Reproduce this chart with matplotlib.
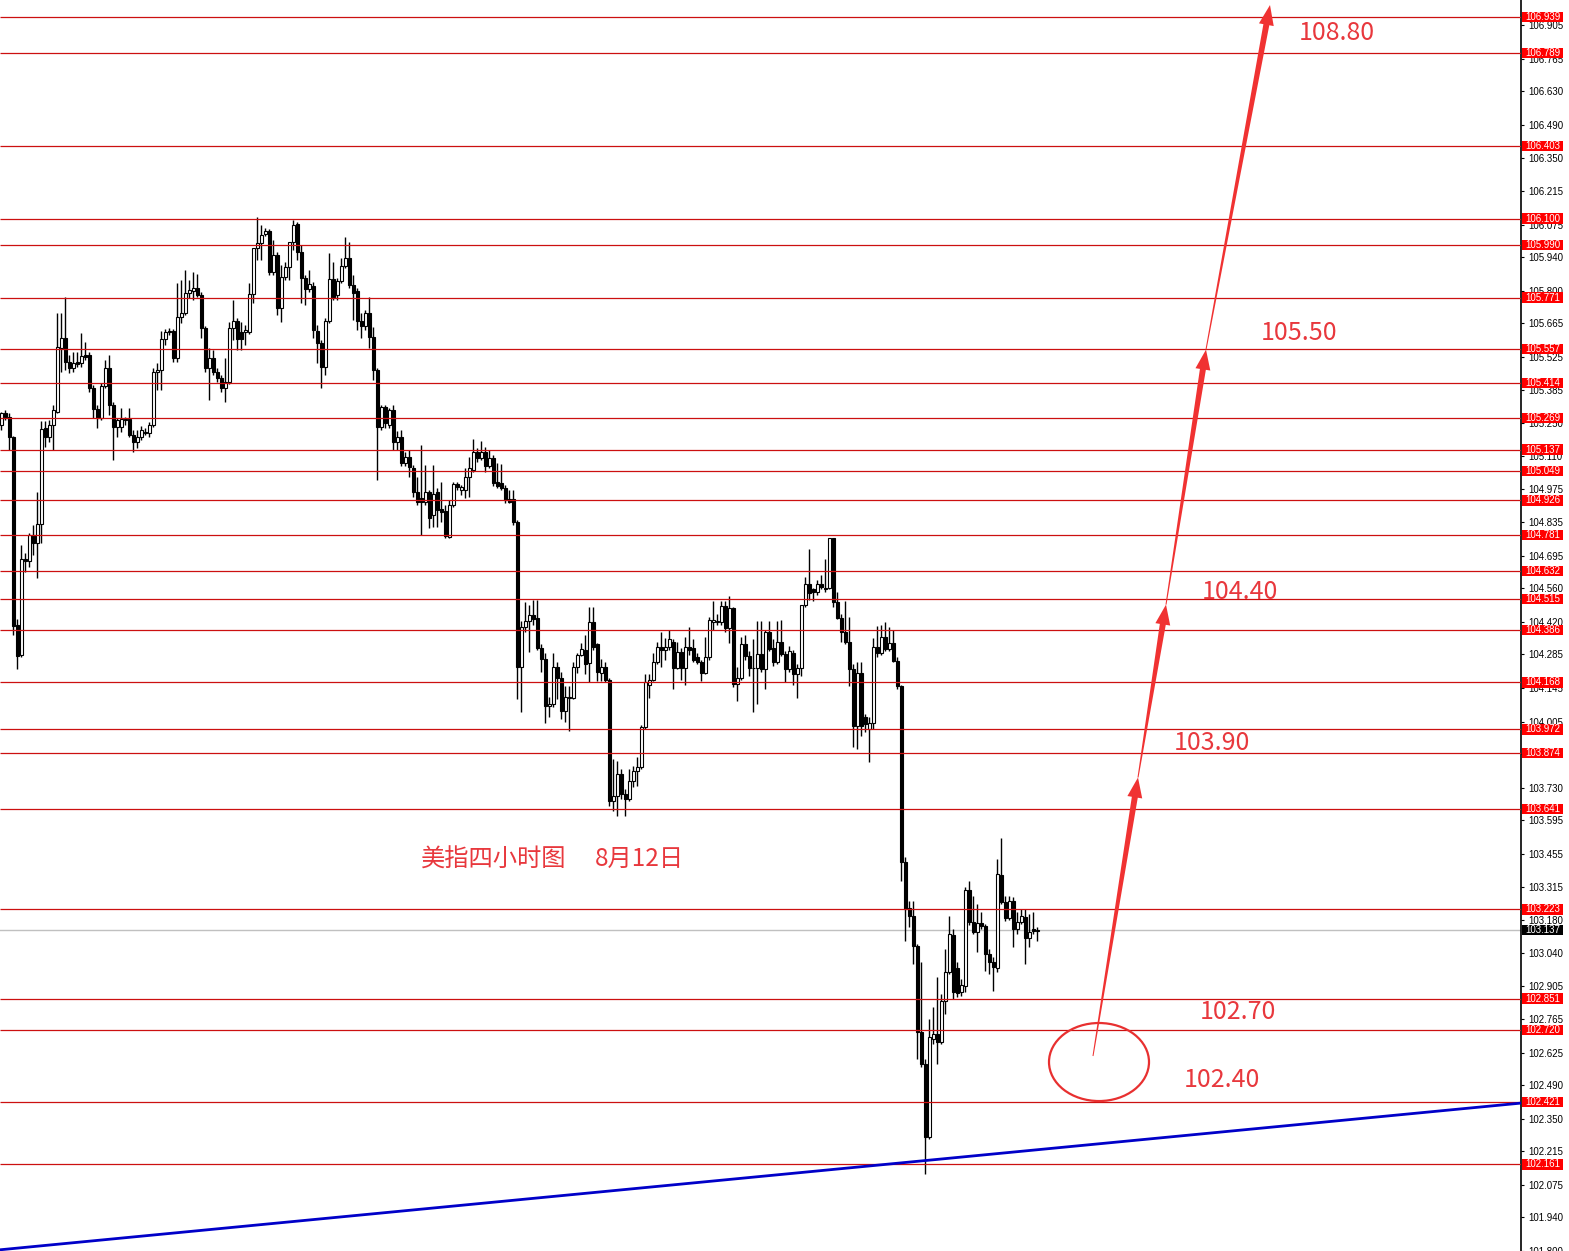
import matplotlib
matplotlib.use("Agg")
import matplotlib.pyplot as plt
import numpy as np
from matplotlib.patches import Rectangle, Ellipse, Polygon
from matplotlib import transforms

cjk = ["Noto Sans CJK SC", "DejaVu Sans"]

# 4H candles (index 0..259)
opens = [
    105.241, 105.292, 105.275, 105.188, 104.409, 104.284, 104.684, 104.672, 104.783, 104.750,
    104.829, 105.229, 105.188, 105.241, 105.296, 105.562, 105.604, 105.504, 105.479, 105.504,
    105.500, 105.533, 105.533, 105.396, 105.308, 105.271, 105.404, 105.479, 105.324, 105.233,
    105.233, 105.266, 105.266, 105.200, 105.171, 105.188, 105.212, 105.208, 105.241, 105.462,
    105.470, 105.600, 105.633, 105.633, 105.521, 105.691, 105.707, 105.791, 105.799, 105.812,
    105.783, 105.645, 105.479, 105.521, 105.462, 105.437, 105.396, 105.420, 105.645, 105.674,
    105.629, 105.629, 105.629, 105.787, 105.978, 105.999, 106.036, 106.049, 105.878, 105.949,
    105.728, 105.857, 105.899, 106.003, 106.078, 105.962, 105.853, 105.807, 105.820, 105.633,
    105.583, 105.483, 105.674, 105.849, 105.783, 105.841, 105.903, 105.936, 105.824, 105.799,
    105.674, 105.653, 105.707, 105.608, 105.470, 105.233, 105.316, 105.241, 105.304, 105.171,
    105.192, 105.083, 105.108, 105.062, 104.963, 104.938, 104.921, 104.959, 104.867, 104.959,
    104.892, 104.883, 104.775, 104.908, 104.996, 104.971, 104.971, 105.025, 105.054, 105.129,
    105.104, 105.129, 105.071, 105.104, 105.004, 105.000, 104.979, 104.933, 104.933, 104.834,
    104.234, 104.397, 104.422, 104.447, 104.438, 104.313, 104.267, 104.068, 104.076, 104.234,
    104.188, 104.047, 104.105, 104.105, 104.234, 104.284, 104.305, 104.247, 104.418, 104.326,
    104.209, 104.234, 104.180, 103.673, 103.694, 103.785, 103.702, 103.681, 103.756, 103.798,
    103.814, 103.981, 104.159, 104.180, 104.251, 104.317, 104.305, 104.317, 104.338, 104.230,
    104.296, 104.230, 104.317, 104.313, 104.272, 104.255, 104.209, 104.272, 104.418, 104.418,
    104.418, 104.488, 104.393, 104.476, 104.163, 104.188, 104.326, 104.280, 104.230, 104.226,
    104.288, 104.222, 104.376, 104.313, 104.251, 104.338, 104.288, 104.222, 104.292, 104.205,
    104.226, 104.492, 104.576, 104.555, 104.546, 104.576, 104.563, 104.563, 104.771, 104.501,
    104.438, 104.376, 104.338, 104.222, 103.985, 104.209, 104.026, 103.972, 104.001, 104.317,
    104.292, 104.359, 104.309, 104.334, 104.259, 104.151, 103.419, 103.227, 103.194, 103.069,
    102.711, 102.578, 102.274, 102.682, 102.703, 102.670, 102.840, 102.961, 103.115, 102.978,
    102.878, 102.903, 103.302, 103.169, 103.128, 103.165, 103.153, 103.036, 103.003, 102.978,
    103.365, 103.252, 103.186, 103.256, 103.140, 103.169, 103.190, 103.102, 103.140, 103.132,
]
closes = [
    105.292, 105.275, 105.188, 104.401, 104.280, 104.680, 104.672, 104.783, 104.750, 104.829,
    105.225, 105.188, 105.241, 105.304, 105.566, 105.604, 105.504, 105.479, 105.500, 105.495,
    105.529, 105.525, 105.396, 105.308, 105.271, 105.404, 105.479, 105.324, 105.233, 105.262,
    105.266, 105.262, 105.200, 105.171, 105.188, 105.221, 105.208, 105.241, 105.462, 105.470,
    105.600, 105.629, 105.629, 105.521, 105.691, 105.707, 105.791, 105.803, 105.812, 105.783,
    105.645, 105.479, 105.521, 105.462, 105.437, 105.396, 105.420, 105.645, 105.674, 105.600,
    105.600, 105.637, 105.787, 105.978, 105.999, 106.032, 106.049, 105.878, 105.949, 105.728,
    105.857, 105.899, 106.003, 106.074, 105.962, 105.853, 105.807, 105.828, 105.637, 105.583,
    105.483, 105.674, 105.849, 105.774, 105.841, 105.903, 105.936, 105.824, 105.791, 105.674,
    105.653, 105.707, 105.608, 105.470, 105.233, 105.316, 105.250, 105.304, 105.171, 105.192,
    105.083, 105.108, 105.067, 104.963, 104.921, 104.921, 104.959, 104.854, 104.954, 104.888,
    104.879, 104.779, 104.908, 104.996, 104.983, 104.983, 105.025, 105.062, 105.129, 105.104,
    105.129, 105.071, 105.104, 105.000, 104.988, 104.979, 104.929, 104.921, 104.834, 104.234,
    104.397, 104.422, 104.447, 104.434, 104.313, 104.267, 104.068, 104.076, 104.234, 104.188,
    104.047, 104.109, 104.109, 104.234, 104.284, 104.309, 104.243, 104.418, 104.317, 104.213,
    104.234, 104.180, 103.673, 103.694, 103.785, 103.702, 103.681, 103.756, 103.798, 103.814,
    103.981, 104.168, 104.180, 104.251, 104.317, 104.305, 104.317, 104.347, 104.230, 104.296,
    104.230, 104.317, 104.305, 104.263, 104.255, 104.209, 104.272, 104.426, 104.426, 104.422,
    104.488, 104.393, 104.476, 104.163, 104.188, 104.330, 104.280, 104.230, 104.226, 104.288,
    104.222, 104.376, 104.309, 104.251, 104.338, 104.288, 104.222, 104.297, 104.205, 104.226,
    104.492, 104.576, 104.542, 104.546, 104.576, 104.567, 104.559, 104.771, 104.501, 104.438,
    104.376, 104.338, 104.222, 103.985, 104.209, 103.985, 103.993, 104.001, 104.317, 104.292,
    104.359, 104.309, 104.334, 104.259, 104.151, 103.419, 103.223, 103.194, 103.069, 102.711,
    102.578, 102.274, 102.690, 102.703, 102.670, 102.840, 102.961, 103.119, 102.878, 102.874,
    102.907, 103.302, 103.169, 103.128, 103.165, 103.153, 103.036, 103.003, 102.982, 103.369,
    103.252, 103.186, 103.256, 103.140, 103.169, 103.194, 103.102, 103.128, 103.132, 103.137,
]
highs = [
    105.296, 105.304, 105.292, 105.196, 104.430, 104.742, 104.709, 104.792, 104.825, 104.959,
    105.258, 105.258, 105.262, 105.324, 105.707, 105.707, 105.774, 105.533, 105.545, 105.545,
    105.624, 105.587, 105.545, 105.408, 105.324, 105.416, 105.512, 105.533, 105.337, 105.271,
    105.312, 105.275, 105.312, 105.221, 105.221, 105.237, 105.229, 105.254, 105.479, 105.500,
    105.633, 105.641, 105.645, 105.641, 105.833, 105.845, 105.886, 105.845, 105.878, 105.870,
    105.795, 105.654, 105.562, 105.554, 105.479, 105.450, 105.521, 105.670, 105.762, 105.687,
    105.670, 105.658, 105.833, 105.978, 106.107, 106.074, 106.061, 106.057, 106.011, 105.962,
    105.907, 105.920, 106.003, 106.094, 106.086, 105.990, 105.866, 105.886, 105.837, 105.658,
    105.595, 105.687, 105.957, 105.920, 105.853, 105.936, 106.024, 106.003, 105.866, 105.812,
    105.707, 105.720, 105.774, 105.649, 105.479, 105.324, 105.324, 105.312, 105.324, 105.217,
    105.221, 105.129, 105.137, 105.075, 105.025, 105.158, 105.075, 104.971, 105.075, 104.979,
    105.004, 104.908, 104.929, 105.004, 105.004, 104.992, 105.062, 105.108, 105.183, 105.146,
    105.175, 105.150, 105.137, 105.117, 105.083, 105.079, 104.992, 104.971, 104.971, 104.846,
    104.422, 104.501, 104.492, 104.513, 104.513, 104.326, 104.292, 104.109, 104.292, 104.255,
    104.213, 104.151, 104.155, 104.251, 104.292, 104.334, 104.367, 104.480, 104.484, 104.334,
    104.267, 104.255, 104.188, 103.847, 103.839, 103.806, 103.723, 103.806, 103.818, 103.856,
    103.989, 104.201, 104.201, 104.292, 104.338, 104.376, 104.355, 104.388, 104.347, 104.338,
    104.313, 104.359, 104.397, 104.347, 104.292, 104.263, 104.359, 104.442, 104.509, 104.451,
    104.509, 104.509, 104.526, 104.484, 104.234, 104.359, 104.367, 104.297, 104.347, 104.422,
    104.422, 104.388, 104.422, 104.347, 104.422, 104.426, 104.297, 104.318, 104.305, 104.243,
    104.492, 104.605, 104.725, 104.563, 104.596, 104.617, 104.680, 104.771, 104.771, 104.546,
    104.451, 104.505, 104.442, 104.243, 104.255, 104.251, 104.035, 104.022, 104.355, 104.405,
    104.409, 104.418, 104.397, 104.388, 104.272, 104.159, 103.440, 103.256, 103.256, 103.078,
    103.003, 102.599, 102.765, 102.815, 102.940, 102.870, 103.057, 103.194, 103.140, 103.003,
    102.932, 103.315, 103.340, 103.277, 103.244, 103.211, 103.161, 103.057, 103.024, 103.431,
    103.519, 103.277, 103.277, 103.273, 103.211, 103.223, 103.223, 103.202, 103.211, 103.148,
]
lows = [
    105.221, 105.262, 105.137, 104.367, 104.222, 104.272, 104.626, 104.647, 104.700, 104.604,
    104.750, 105.150, 105.171, 105.137, 105.292, 105.462, 105.470, 105.458, 105.462, 105.483,
    105.483, 105.512, 105.379, 105.271, 105.229, 105.262, 105.396, 105.283, 105.096, 105.192,
    105.212, 105.241, 105.188, 105.129, 105.146, 105.179, 105.200, 105.188, 105.233, 105.387,
    105.387, 105.575, 105.616, 105.504, 105.504, 105.666, 105.699, 105.770, 105.762, 105.774,
    105.604, 105.462, 105.345, 105.450, 105.420, 105.379, 105.337, 105.412, 105.595, 105.554,
    105.554, 105.575, 105.620, 105.749, 105.928, 105.928, 106.028, 105.866, 105.866, 105.699,
    105.670, 105.845, 105.845, 105.970, 105.928, 105.749, 105.741, 105.795, 105.604, 105.500,
    105.396, 105.450, 105.666, 105.762, 105.762, 105.833, 105.895, 105.812, 105.678, 105.637,
    105.604, 105.637, 105.562, 105.429, 105.012, 105.221, 105.229, 105.229, 105.137, 105.137,
    105.071, 105.071, 105.025, 104.942, 104.908, 104.783, 104.908, 104.813, 104.817, 104.817,
    104.838, 104.771, 104.771, 104.900, 104.971, 104.950, 104.938, 104.942, 105.046, 105.088,
    105.096, 105.046, 105.062, 104.988, 104.979, 104.971, 104.917, 104.917, 104.825, 104.097,
    104.043, 104.380, 104.293, 104.409, 104.305, 104.213, 104.001, 104.022, 104.064, 104.097,
    104.014, 104.005, 103.964, 104.097, 104.209, 104.276, 104.201, 104.168, 104.305, 104.172,
    104.172, 104.168, 103.652, 103.631, 103.610, 103.681, 103.610, 103.673, 103.731, 103.735,
    103.806, 103.972, 104.105, 104.172, 104.243, 104.234, 104.263, 104.305, 104.139, 104.222,
    104.180, 104.159, 104.284, 104.255, 104.243, 104.172, 104.201, 104.263, 104.388, 104.409,
    104.409, 104.380, 104.334, 104.147, 104.089, 104.180, 104.263, 104.193, 104.043, 104.076,
    104.213, 104.139, 104.297, 104.238, 104.243, 104.276, 104.168, 104.213, 104.159, 104.105,
    104.193, 104.484, 104.513, 104.505, 104.534, 104.555, 104.546, 104.555, 104.480, 104.430,
    104.338, 104.326, 104.151, 103.897, 103.889, 103.943, 103.960, 103.835, 103.972, 104.272,
    104.284, 104.297, 104.297, 104.251, 104.139, 103.340, 103.090, 103.148, 102.994, 102.599,
    102.566, 102.120, 102.266, 102.661, 102.578, 102.661, 102.786, 102.953, 102.849, 102.857,
    102.861, 102.878, 103.157, 103.119, 103.044, 103.140, 102.965, 102.953, 102.882, 102.961,
    103.244, 103.173, 103.177, 103.065, 103.119, 103.161, 102.994, 103.065, 103.119, 103.090,
]

# horizontal levels and the current price
levels = [106.939, 106.789, 106.403, 106.100, 105.990, 105.771, 105.557, 105.414,
          105.269, 105.137, 105.049, 104.926, 104.781, 104.632, 104.515, 104.386,
          104.168, 103.972, 103.874, 103.641, 103.223, 102.851, 102.720, 102.421, 102.161]
last_price = 103.137
axis_ticks = [106.905, 106.765, 106.630, 106.490, 106.350, 106.215, 106.075, 105.940,
              105.800, 105.665, 105.525, 105.385, 105.250, 105.110, 104.975, 104.835,
              104.695, 104.560, 104.420, 104.285, 104.145, 104.005, 103.870, 103.730,
              103.595, 103.455, 103.315, 103.180, 103.040, 102.905, 102.765, 102.625,
              102.490, 102.350, 102.215, 102.075, 101.940, 101.800]

# trend line (candle index, price)
trend_x = [-0.25, 380]
trend_y = [101.805, 102.416]

# projected path: ellipse centre -> targets
path_x = [273, 284.25, 291.25, 301.25, 317.25]
path_y = [102.612, 103.772, 104.492, 105.554, 106.989]
targets = ["108.80", "105.50", "104.40", "103.90", "102.70", "102.40"]
target_x = [334, 324.5, 309.75, 302.75, 309.25, 305.25]
target_y = [106.873, 105.624, 104.546, 103.914, 102.794, 102.512]

W, H = 1569, 1251
fig = plt.figure(figsize=(W / 100, H / 100), dpi=100)
ax = fig.add_axes([0, 0, 1521 / W, 1])
ax.set_xlim(-0.25, 380)
ax.set_ylim(101.804, 107.010)

x = np.arange(len(closes))
o = np.array(opens)
c = np.array(closes)
ax.vlines(x, lows, highs, color="black", lw=1, zorder=2)
up = c >= o
bw = 0.75
ax.bar(x[up], np.maximum(c[up] - o[up], 0.002), bottom=o[up], width=bw,
       facecolor="white", edgecolor="black", lw=0.8, zorder=3)
ax.bar(x[~up], np.maximum(o[~up] - c[~up], 0.002), bottom=c[~up], width=bw,
       facecolor="black", edgecolor="black", lw=0.8, zorder=3)

red_line = "#cc1010"
ax.hlines(levels, -0.25, 380, colors=red_line, lw=0.9, zorder=4)
ax.axhline(last_price, color="#c0c0c0", lw=1, zorder=1)
ax.plot(trend_x, trend_y, color="#0000c8", lw=2, zorder=5)

# right price axis
for s in ["left", "top", "bottom"]:
    ax.spines[s].set_visible(False)
ax.spines["right"].set_linewidth(1.2)
ax.set_xticks([])
ax.yaxis.tick_right()
ax.set_yticks(axis_ticks)
ax.set_yticklabels(["%.3f" % t for t in axis_ticks], fontsize=7,
                   family="Liberation Sans")
ax.tick_params(axis="y", direction="out", length=2, width=0.8, pad=3)

blend = transforms.blended_transform_factory(ax.transAxes, ax.transData)
box_w = 41 / 1521
box_h = 10.5 / 240.3
for lv, col in [(v, "#ff0000") for v in levels] + [(last_price, "black")]:
    ax.add_patch(Rectangle((1.0008, lv - box_h / 2), box_w, box_h, transform=blend,
                           facecolor=col, edgecolor="none", clip_on=False, zorder=6))
    ax.text(1.0008 + box_w / 2, lv, "%.3f" % lv, transform=blend, color="white",
            fontsize=7, family="Liberation Sans", ha="center", va="center",
            clip_on=False, zorder=7)

# annotations
ann = "#e8383d"
ax.add_patch(Ellipse((274.5, 102.587), 25, 0.325, fill=False, edgecolor="#e83030",
                     lw=1.6, zorder=6))


def tapered_arrow(p0, p1, w0=0.5, w1=3.0, hl=20, hw=7.5):
    a = ax.transData.transform(p0)
    b = ax.transData.transform(p1)
    d = b - a
    u = d / np.hypot(*d)
    n = np.array([-u[1], u[0]])
    base = b - u * hl
    pts = [a + n * w0, base + n * w1, base + n * hw, b, base - n * hw, base - n * w1, a - n * w0]
    pts = ax.transData.inverted().transform(np.array(pts))
    ax.add_patch(Polygon(pts, closed=True, facecolor="#f03232", edgecolor="none",
                         zorder=7, clip_on=False))


for k in range(len(path_x) - 1):
    tapered_arrow((path_x[k], path_y[k]), (path_x[k + 1], path_y[k + 1]))

for t, tx, ty in zip(targets, target_x, target_y):
    ax.text(tx, ty, t, color=ann, fontsize=18, family=cjk, ha="center", va="center", zorder=8)

ax.text(105, 103.431, "美指四小时图", color=ann, fontsize=17.5, family=cjk,
        ha="left", va="center", zorder=8)
ax.text(148.5, 103.431, "8月12日", color=ann, fontsize=17.5, family=cjk,
        ha="left", va="center", zorder=8)

fig.savefig("out.png", dpi=100, facecolor="white")
